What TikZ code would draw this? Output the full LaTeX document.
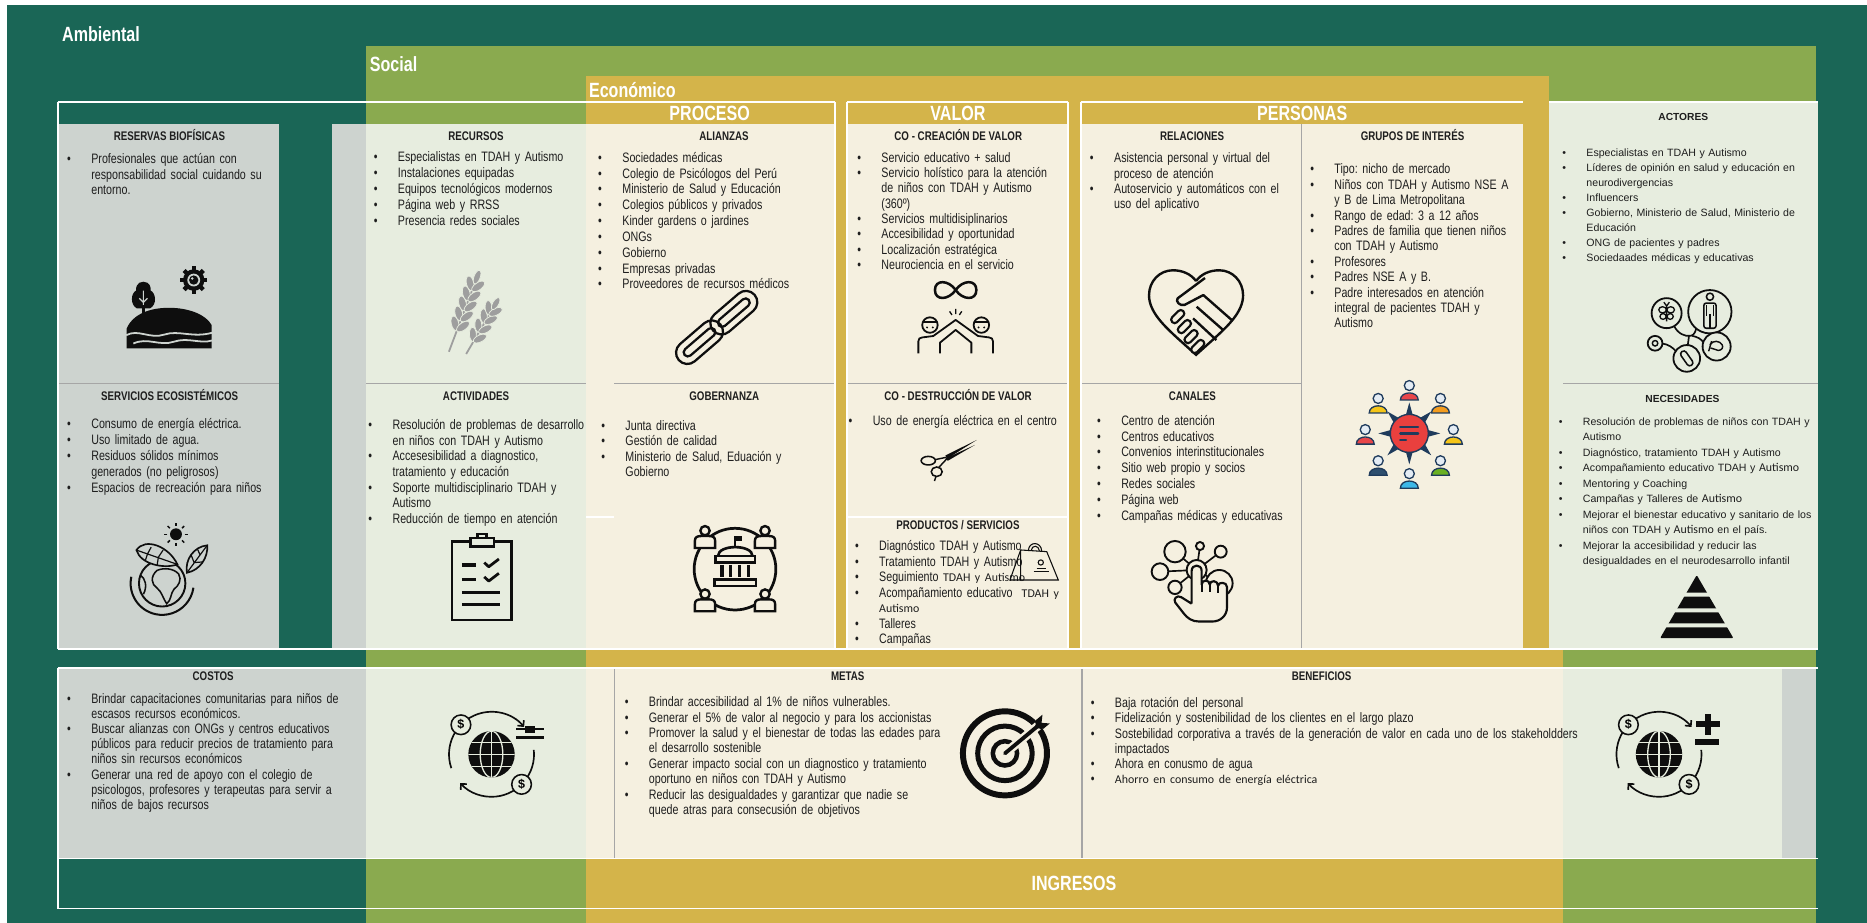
\documentclass[tikz,border=0pt]{standalone}
\usepackage{fontspec}
\setmainfont{Liberation Sans}[FakeStretch=0.78]
\newfontfamily\widefont{Liberation Sans}
\newfontfamily\calfont{Carlito}
\usetikzlibrary{arrows.meta}
\frenchspacing

\definecolor{ambc}{HTML}{1A6656}
\definecolor{socc}{HTML}{8AAA4F}
\definecolor{ecoc}{HTML}{D4B44A}
\definecolor{grayc}{HTML}{CDD3CF}
\definecolor{lgrc}{HTML}{E7EDDF}
\definecolor{begc}{HTML}{F5F0E0}
\definecolor{sepc}{HTML}{A6A6A6}
\definecolor{txtc}{HTML}{1E1E1E}
\definecolor{inkc}{HTML}{0E0E0E}
\definecolor{wheatc}{HTML}{9E9E9E}
\definecolor{navyc}{HTML}{1F3B5C}
\definecolor{gearc}{HTML}{E9403E}
\definecolor{headc}{HTML}{E4ECF4}
\definecolor{pred}{HTML}{E8464A}
\definecolor{porange}{HTML}{F39C1F}
\definecolor{pyellow}{HTML}{F5C518}
\definecolor{pgreen}{HTML}{6AB023}
\definecolor{pblue}{HTML}{3DB8E8}
\definecolor{pnavy}{HTML}{2E4F6E}

% bulleted paragraph with hanging indent
\newcommand\blt[1]{\hangindent=20.3pt\hangafter=1\makebox[20.3pt][l]{\textbullet}#1\par}
% line break inside a bulleted paragraph
\newcommand\nl{\hfil\break}
% words set in Carlito
\newcommand\calt[1]{{\calfont\fontsize{10}{10}\selectfont #1}}

% person of the governance icon
\newcommand\govp[2]{%
  \begin{scope}[shift={(#1,#2)}]
    \draw[inkc, line width=2, fill=begc] (-8.5,9.5) -- (-8.5,3.5) .. controls (-8.5,0.5) and (-6.5,-0.5) .. (-3.5,-0.5) -- (3.5,-0.5) .. controls (6.5,-0.5) and (8.5,0.5) .. (8.5,3.5) -- (8.5,9.5) -- cycle;
    \draw[inkc, line width=2, fill=begc] (0,-5) circle (3.9);
  \end{scope}}

% one chain link, centred and turned
\newcommand\chainlink[3]{%
  \begin{scope}[shift={(#1,#2)}, yscale=-1, rotate=#3]
    \draw[inkc, line width=1.9, rounded corners=9.5] (-23,-9.5) rectangle (23,9.5);
    \draw[inkc, line width=1.9, rounded corners=3.5] (-16.5,-3.5) rectangle (16.5,3.5);
  \end{scope}}

% globe with money arrows
\newcommand\moneyglobe[4]{%
  \begin{scope}[shift={(#1,#2)}, yscale=-1]
    \fill[inkc] (0,0) circle (19.5);
    \begin{scope}
      \clip (0,0) circle (19.5);
      \draw[#3, line width=1.1] (-21,0) -- (21,0) (-21,10) -- (21,10) (-21,-10) -- (21,-10) (0,-21) -- (0,21);
      \draw[#3, line width=1.1] (0,0) ellipse [x radius=9.5, y radius=19.5];
    \end{scope}
    \draw[inkc, line width=1.4, -{Straight Barb[length=3.5pt,width=7pt]}] (199:35.7) arc[start angle=199, end angle=40, radius=35.7];
    \draw[inkc, line width=1.4, -{Straight Barb[length=3.5pt,width=7pt]}] (6:35.7) arc[start angle=6, end angle=-137.5, radius=35.7];
    \node[dollar, fill=#3] (#4a) at (136:35.7) {\$};
    \node[dollar, fill=#3] (#4b) at (-45:35.7) {\$};
  \end{scope}}

\begin{document}
\begin{tikzpicture}[x=1pt, y=-1pt,
  lst/.style={anchor=base west, inner sep=0pt, outer sep=0pt, text width=430pt, align=left, text=txtc, font=\fontsize{11.5}{#1}\selectfont},
  lst/.default=13,
  lstw/.style={lst, font=\widefont\fontsize{8.9}{#1}\selectfont},
  lstw/.default=12.8,
  ttl/.style={anchor=base, inner sep=0pt, text=txtc, font=\fontsize{10.5}{12}\selectfont\bfseries},
  ttlw/.style={anchor=base, inner sep=0pt, text=txtc, font=\widefont\fontsize{8.6}{10}\selectfont\bfseries},
  hdr/.style={anchor=base, inner sep=0pt, text=white, font=\fontsize{17.3}{19}\selectfont\bfseries},
  bandlbl/.style={anchor=base west, inner sep=0pt, text=white, font=\fontsize{17.3}{19}\selectfont\bfseries},
  wline/.style={white, line width=1.6},
  sepline/.style={sepc, line width=1.4},
  icon/.style={inkc, line width=1.6},
  dollar/.style={circle, draw=inkc, line width=1.3, inner sep=0pt, minimum size=16.5pt, font=\widefont\fontsize{10.5}{10.5}\selectfont\bfseries}
]
\useasboundingbox (0,0) rectangle (1568,775);
\fill[white] (0,0) rectangle (1568,775);

% ---- the three nested bands ----
\fill[ambc] (6,4.2) rectangle (1568,775);
\fill[socc] (307.8,38.6) rectangle (1525.5,775);
\fill[ecoc] (492,64) rectangle (1301,775);
\fill[ecoc] (1301,545) rectangle (1313,775);

\node[bandlbl] (lamb) at (52,35) {Ambiental};
\node[bandlbl] (lsoc) at (310.5,60) {Social};
\node[bandlbl] (leco) at (494.5,81.7) {Económico};

% ---- upper cells ----
\fill[grayc] (49,104.5) rectangle (234.5,545);
\fill[grayc] (278.5,104.5) rectangle (307.8,545);
\fill[lgrc] (307.8,104.5) rectangle (492,545);
\fill[begc] (492,104.5) rectangle (701,545);
\fill[begc] (711.5,104.5) rectangle (897,545);
\fill[begc] (907.6,104.5) rectangle (1279,545);
\fill[lgrc] (1301,86) rectangle (1526.5,545);

% ---- lower cells ----
\fill[grayc] (49,561) rectangle (307.8,721);
\fill[lgrc] (307.8,561) rectangle (492,721);
\fill[begc] (492,561) rectangle (1313,721);
\fill[lgrc] (1313,561) rectangle (1497,721);
\fill[grayc] (1497,561) rectangle (1525.5,721);

% ---- separators ----
\draw[sepline] (49,322) -- (234.5,322);
\draw[sepline] (307.8,322) -- (492,322);
\draw[sepline] (516,322) -- (701,322);
\draw[sepline] (711.5,322) -- (897,322);
\draw[sepline] (907.6,322) -- (1093,322);
\draw[sepline] (1313,322) -- (1527,322);
\draw[sepline] (1093,104.5) -- (1093,545);
\draw[sepline] (516,561) -- (516,721);
\draw[sepline] (908.6,561) -- (908.6,721);

% ---- white frames ----
\draw[wline] (49,86) -- (701,86);
\draw[wline] (711.5,86) -- (897,86);
\draw[wline] (907.6,86) -- (1279,86);
\draw[wline] (1301,86) -- (1527,86);
\draw[wline] (49,86) -- (49,545);
\draw[wline] (701,86) -- (701,545);
\draw[wline] (711.5,86) -- (711.5,545);
\draw[wline] (897,86) -- (897,545);
\draw[wline] (907.6,86) -- (907.6,545);
\draw[wline] (49,545) -- (1527,545);
\draw[wline] (492,434) -- (516,434);
\draw[wline] (711.5,434) -- (897,434);
\draw[wline] (49,561) -- (1527,561);
\draw[wline] (49,721) -- (1527,721);
\draw[wline] (49,763) -- (1527,763);
\draw[wline] (49,561) -- (49,763);

% ---- headers ----
\node[hdr] (hProc) at (596,101.6) {PROCESO};
\node[hdr] (hVal) at (804.5,101.6) {VALOR};
\node[hdr] (hPer) at (1093.6,101.6) {PERSONAS};
\node[hdr] (ingresos) at (902,747.5) {INGRESOS};

% ---- block titles ----
\node[ttl] (hRes) at (142.3,117.6) {RESERVAS BIOFÍSICAS};
\node[ttl] (hRec) at (399.8,117.6) {RECURSOS};
\node[ttl] (hAli) at (608,117.6) {ALIANZAS};
\node[ttl] (hCre) at (804.8,117.6) {CO - CREACIÓN DE VALOR};
\node[ttl] (hRel) at (1001.2,117.6) {RELACIONES};
\node[ttl] (hGru) at (1186.3,117.6) {GRUPOS DE INTERÉS};
\node[ttlw] (hAct) at (1413.7,101.4) {ACTORES};
\node[ttl] (hSer) at (142.5,336) {SERVICIOS ECOSISTÉMICOS};
\node[ttl] (hActv) at (399.8,336) {ACTIVIDADES};
\node[ttl] (hGob) at (608.3,336) {GOBERNANZA};
\node[ttl] (hDes) at (804.6,336) {CO - DESTRUCCIÓN DE VALOR};
\node[ttl] (hPro) at (804.5,445) {PRODUCTOS / SERVICIOS};
\node[ttl] (hCan) at (1001.4,336) {CANALES};
\node[ttlw] (hNec) at (1413,338.2) {NECESIDADES};
\node[ttl] (hCos) at (179,571.1) {COSTOS};
\node[ttl] (hMet) at (712,571.1) {METAS};
\node[ttl] (hBen) at (1110,571.1) {BENEFICIOS};

% ---- block contents ----
\node[lst=12.9] (tRes) at (56.4,137.6) {\blt{Profesionales que actúan con\nl responsabilidad social cuidando su\nl entorno.}};
\node[lst=13.3] (tRec) at (313.9,135.9) {\blt{Especialistas en TDAH y Autismo}\blt{Instalaciones equipadas}\blt{Equipos tecnológicos modernos}\blt{Página web y RRSS}\blt{Presencia redes sociales}};
\node[lst=13.3] (tAli) at (502.4,136.2) {\blt{Sociedades médicas}\blt{Colegio de Psicólogos del Perú}\blt{Ministerio de Salud y Educación}\blt{Colegios públicos y privados}\blt{Kinder gardens o jardines}\blt{ONGs}\blt{Gobierno}\blt{Empresas privadas}\blt{Proveedores de recursos médicos}};
\node[lst=12.9] (tCre) at (720,136.2) {\blt{Servicio educativo + salud}\blt{Servicio holístico para la atención\nl de niños con TDAH y Autismo\nl (360º)}\blt{Servicios multidisiplinarios}\blt{Accesibilidad y oportunidad}\blt{Localización estratégica}\blt{Neurociencia en el servicio}};
\node[lst=12.9] (tRel) at (915.4,136.8) {\blt{Asistencia personal y virtual del\nl proceso de atención}\blt{Autoservicio y automáticos con el\nl uso del aplicativo}};
\node[lst=12.93] (tGru) at (1100.4,146) {\blt{Tipo: nicho de mercado}\blt{Niños con TDAH y Autismo NSE A\nl y B de Lima Metropolitana}\blt{Rango de edad: 3 a 12 años}\blt{Padres de familia que tienen niños\nl con TDAH y Autismo}\blt{Profesores}\blt{Padres NSE A y B.}\blt{Padre interesados en atención\nl integral de pacientes TDAH y\nl Autismo}};
\node[lstw=12.6] (tAct) at (1312.1,131.2) {\blt{Especialistas en TDAH y Autismo}\blt{Líderes de opinión en salud y educación en\nl neurodivergencias}\blt{Influencers}\blt{Gobierno, Ministerio de Salud, Ministerio de\nl Educación}\blt{ONG de pacientes y padres}\blt{Sociedaades médicas y educativas}};
\node[lst=13.3] (tSer) at (56.4,360.2) {\blt{Consumo de energía eléctrica.}\blt{Uso limitado de agua.}\blt{Residuos sólidos mínimos\nl generados (no peligrosos)}\blt{Espacios de recreación para niños}};
\node[lst=13.07] (tActv) at (309.4,361) {\blt{Resolución de problemas de desarrollo\nl en niños con TDAH y Autismo}\blt{Accesesibilidad a diagnostico,\nl tratamiento y educación}\blt{Soporte multidisciplinario  TDAH y\nl Autismo}\blt{Reducción de tiempo en atención}};
\node[lst=13.07] (tGob) at (505,361.3) {\blt{Junta directiva}\blt{Gestión de calidad}\blt{Ministerio de Salud, Eduación y\nl Gobierno}};
\node[lst] (tDes) at (712.7,357.1) {\blt{Uso de energía eléctrica en el centro}};
\node[lst=13.07] (tPro) at (718.1,462.4) {\blt{Diagnóstico TDAH y Autismo}\blt{Tratamiento TDAH y Autismo}\blt{Seguimiento \calt{TDAH y Autismo}}\blt{Acompañamiento educativo \ \calt{TDAH y\nl Autismo}}\blt{Talleres}\blt{Campañas}};
\node[lst=13.28] (tCan) at (921.4,357.1) {\blt{Centro de atención}\blt{Centros educativos}\blt{Convenios interinstitucionales}\blt{Sitio web propio y socios}\blt{Redes sociales}\blt{Página web}\blt{Campañas médicas y educativas}};
\node[lstw=12.97] (tNec) at (1309.1,357.4) {\blt{Resolución de problemas de niños con TDAH y\nl Autismo}\blt{Diagnóstico, tratamiento TDAH y Autismo}\blt{Acompañamiento educativo TDAH y \calt{Autismo}}\blt{Mentoring y Coaching}\blt{Campañas y Talleres de \calt{Autismo}}\blt{Mejorar el bienestar educativo y sanitario de los\nl niños con TDAH y \calt{Autismo} en el país.}\blt{Mejorar la accesibilidad y reducir las\nl desigualdades en el neurodesarrollo infantil}};
\node[lst=12.7] (tCos) at (56.4,590.8) {\blt{Brindar capacitaciones comunitarias para niños de\nl escasos recursos económicos.}\blt{Buscar alianzas con ONGs y centros educativos\nl públicos para reducir precios de tratamiento para\nl niños sin recursos económicos}\blt{Generar una red de apoyo con el colegio de\nl psicologos, profesores y terapeutas para servir a\nl niños de bajos recursos}};
\node[lst=12.93] (tMet) at (524.7,593.6) {\blt{Brindar accesibilidad al 1\% de niños vulnerables.}\blt{Generar el 5\% de valor al negocio y para los accionistas}\blt{Promover la salud y el bienestar de todas las edades para\nl el desarrollo sostenible}\blt{Generar impacto social con un diagnostico y tratamiento\nl oportuno en niños con TDAH y Autismo}\blt{Reducir las desigualdades y garantizar que nadie se\nl quede atras para consecusión de objetivos}};
\node[lst=12.7] (tBen) at (916.1,594.5) {\blt{Baja rotación del personal}\blt{Fidelización y sostenibilidad de los clientes en el largo plazo}\blt{Sostebilidad corporativa a través de la generación de valor en cada uno de los stakeholdders\nl impactados}\blt{Ahora en conusmo de agua}\blt{\calt{Ahorro en consumo de energía eléctrica}}};

% ================= icons =================
% hill, tree and sun
\fill[inkc] (106.3,292.5) -- (106.3,276) .. controls (112,263) and (127,258.5) .. (142,258.5) .. controls (158,258.5) and (173,264) .. (177.7,273) -- (177.7,292.5) -- cycle;
\draw[grayc, line width=1.5] (106,281.5) .. controls (116,276) and (126,285) .. (138,281) .. controls (150,277) and (162,284) .. (178,279.5);
\draw[grayc, line width=1.5] (112,288.5) .. controls (124,283) and (134,291) .. (146,287) .. controls (158,283) and (168,289) .. (178,286);
\fill[inkc] (119.3,257) rectangle (121.5,266);
\fill[inkc] (120.4,236.6) .. controls (126,236.6) and (127,242) .. (126.5,244) .. controls (131,246) and (132,256) .. (126,259) -- (115,259) .. controls (109,256) and (110,246) .. (114.3,244) .. controls (113.8,242) and (115,236.6) .. (120.4,236.6) -- cycle;
\draw[grayc, line width=1] (120.4,244) -- (120.4,256) (117,250.5) -- (120.4,254) -- (123.8,250.5);
\fill[inkc] (162.7,235.2) circle (9);
\foreach \a in {0,45,...,315}
  \fill[inkc, rotate around={\a:(162.7,235.2)}] (160.9,223.8) rectangle (164.5,235.2);
\fill[grayc] (162.7,235.2) circle (5.4);
\fill[inkc] (162.7,235.2) circle (3.9);
\fill[grayc] (161.4,233.9) circle (1.2);

% wheat
\begin{scope}[shift={(377,295.4)}, yscale=-1, rotate=20.7]
  \draw[wheatc, line width=1.5] (0,0) -- (0,64);
  \foreach \yy in {24,33,42,51,60} {
    \fill[wheatc, draw=lgrc, line width=0.6, rotate around={-34:(-3.6,\yy)}] (-3.6,\yy) ellipse [x radius=3.1, y radius=6.3];
    \fill[wheatc, draw=lgrc, line width=0.6, rotate around={34:(3.6,\yy)}] (3.6,\yy) ellipse [x radius=3.1, y radius=6.3];
  }
  \fill[wheatc, draw=lgrc, line width=0.6] (0,67) ellipse [x radius=2.6, y radius=6];
\end{scope}
\begin{scope}[shift={(391.5,297.3)}, yscale=-1, rotate=30.4]
  \draw[wheatc, line width=1.5] (0,0) -- (0,44);
  \foreach \yy in {17,26,35,43} {
    \fill[wheatc, draw=lgrc, line width=0.6, rotate around={-34:(-3.4,\yy)}] (-3.4,\yy) ellipse [x radius=2.9, y radius=6];
    \fill[wheatc, draw=lgrc, line width=0.6, rotate around={34:(3.4,\yy)}] (3.4,\yy) ellipse [x radius=2.9, y radius=6];
  }
  \fill[wheatc, draw=lgrc, line width=0.6] (0,49) ellipse [x radius=2.5, y radius=5.6];
\end{scope}

% chain
\chainlink{587.5}{287.4}{-40.7}
\chainlink{616.3}{262.6}{-40.7}

% infinity and high five
\draw[icon, line width=2.1] (802.6,243.6) .. controls (808.5,235) and (820,234.5) .. (820,243.6) .. controls (820,252.7) and (808.5,252.2) .. (802.6,243.6) .. controls (796.7,235) and (785.2,234.5) .. (785.2,243.6) .. controls (785.2,252.7) and (796.7,252.2) .. (802.6,243.6) -- cycle;
\draw[icon, line width=1.5] (781,273) circle (6.5);
\draw[icon, line width=1.5] (824.2,273) circle (6.5);
\draw[icon, line width=1.2] (774.8,270.5) -- (787.2,270.5) (818,270.5) -- (830.4,270.5);
\fill[inkc] (778.6,275) circle (0.9) (783.4,275) circle (0.9) (821.8,275) circle (0.9) (826.6,275) circle (0.9);
\draw[icon, line width=1.5, line join=round] (771.3,296.7) -- (771.3,286.5) .. controls (771.3,284.5) and (772.5,283.6) .. (774.5,283.4) -- (783.8,282.2) -- (802.6,268.7) -- (821.4,282.2) -- (830.7,283.4) .. controls (832.7,283.6) and (833.9,284.5) .. (833.9,286.5) -- (833.9,296.7);
\draw[icon, line width=1.5, line join=round] (789.4,296.7) -- (789.4,287.8) -- (802.6,277.1) -- (815.8,287.8) -- (815.8,296.7);
\draw[icon, line width=1.1] (797.5,261.5) -- (799.5,264.5) (802.6,259.5) -- (802.6,263.8) (807.7,261.5) -- (805.7,264.5);

% heart handshake
\draw[icon, line width=2] (1004.5,236) .. controls (1000,230) and (993,227) .. (985,227) .. controls (974,227) and (965,236) .. (965,248) .. controls (965,262) and (978,274) .. (990,285) -- (1004.5,298) -- (1019,285) .. controls (1031,274) and (1044,262) .. (1044,248) .. controls (1044,236) and (1035,227) .. (1024,227) .. controls (1016,227) and (1009,230) .. (1004.5,236);
\draw[icon, line width=2, line join=round, fill=begc] (1012,233.5) -- (989,250.6) .. controls (987,253) and (991,257.5) .. (995,256) -- (1010.6,247.8) -- (1034.5,268.8);
\draw[icon, line width=2] (1005,257.6) -- (1027.3,277.2);
\draw[icon, line width=2] (1002,267.4) -- (1021.6,285.6);
\foreach \cx/\cy in {989.1/265.9, 994.7/274.3, 1000.3/282.7, 1005.9/291}
  \draw[icon, line width=1.8, fill=begc, rotate around={45:(\cx,\cy)}, rounded corners=2.7] (\cx-6.5,\cy-2.9) rectangle (\cx+6.5,\cy+2.9);

% stakeholder network
\begin{scope}[shift={(1183.6,364)}, yscale=-1]
  \foreach \a in {0,45,...,315}
    \fill[navyc] (\a:26) -- (\a+14:14) -- (\a-14:14) -- cycle;
  \draw[navyc, line width=1.2, fill=gearc] (0,0) circle (16);
  \draw[navyc, line width=1.9, line cap=round] (-7.6,5.6) -- (7.4,5.6) (-7.6,0) -- (7.4,0) (-7.6,-5.6) -- (-2.8,-5.6);
  \foreach \a/\c in {90/pred, 45/porange, 0/pyellow, -45/pgreen, -90/pblue, -135/pnavy, 180/pred, 135/pyellow} {
    \begin{scope}[shift={(\a:37)}]
      \draw[navyc, line width=1.1, fill=\c] (-7.5,-9) .. controls (-7.5,-1) and (7.5,-1) .. (7.5,-9) -- cycle;
      \draw[navyc, line width=1.1, fill=headc] (0,3.2) circle (4.2);
    \end{scope}
  }
\end{scope}

% actors circles
\draw[icon, line width=1.4] (1396.2,288.6) .. controls (1401,289) and (1405,292) .. (1407.5,295);
\draw[icon, line width=1.4] (1406,273.8) .. controls (1409,280) and (1415,283) .. (1420,282) .. controls (1423,281.5) and (1424,278) .. (1424.5,276);
\draw[icon, line width=1.4] (1418.5,282) -- (1417.5,289.8);
\draw[icon, line width=1.4] (1421,282) .. controls (1426,283) and (1429,285) .. (1430.5,287.5);
\draw[icon, line width=1.5, fill=lgrc] (1436,261.8) circle (18.2);
\draw[icon, line width=1.3] (1436.1,249.2) circle (3);
\draw[icon, line width=1.3, rounded corners=2] (1431,254.5) rectangle (1441.2,275.7);
\draw[icon, line width=1.1] (1436.1,264) -- (1436.1,275.7) (1433.3,256) -- (1433.3,265) (1438.9,256) -- (1438.9,265);
\draw[icon, line width=1.5, fill=lgrc] (1399.7,263) circle (12.6);
\draw[icon, line width=1.1] (1399.7,256.5) -- (1399.7,270) (1399.7,257) -- (1397.4,253.8) (1399.7,257) -- (1402,253.8);
\draw[icon, line width=1.1] (1396.3,260.2) ellipse [x radius=3.2, y radius=2.6] (1403.1,260.2) ellipse [x radius=3.2, y radius=2.6] (1396.7,265.8) ellipse [x radius=2.6, y radius=2.4] (1402.7,265.8) ellipse [x radius=2.6, y radius=2.4];
\draw[icon, line width=1.5, fill=lgrc] (1416.6,301) circle (11.2);
\draw[icon, line width=1.3, rotate around={-55:(1416.6,301)}, rounded corners=2.5] (1409.6,298.4) rectangle (1423.6,303.6);
\draw[icon, line width=1.5, fill=lgrc] (1441.7,291) circle (11.8);
\draw[icon, line width=1.2] (1436,289.5) .. controls (1439,285.5) and (1444,286) .. (1446.3,289.5) .. controls (1447.6,291.8) and (1446,294.3) .. (1443,294.3) -- (1436.5,292.2);
\draw[icon, line width=1.2] (1437.5,286.5) -- (1435,295);
\draw[icon, line width=1.5, fill=lgrc] (1390,288.3) circle (6.2);
\draw[icon, line width=1.2] (1390,288.3) circle (2.3);

% globe, leaves and sun
\fill[inkc] (147.8,448.7) circle (5);
\foreach \a in {0,45,...,315}
  \draw[icon, line width=1.2] ([shift={(\a:7.2)}]147.8,448.7) -- ([shift={(\a:9.8)}]147.8,448.7);
\draw[icon, line width=1.6] (136.2,489.9) circle (19.5);
\begin{scope}[shift={(136.2,489.9)}, yscale=-1]
  \draw[icon, line width=1.7] (168:26.5) arc[start angle=168, end angle=352, radius=26.5];
\end{scope}
\draw[icon, line width=1.3] (132,479) .. controls (138,476.5) and (146,477.5) .. (150,482) .. controls (153,487) and (150,492) .. (146,495) .. controls (143,499) and (144,504) .. (140,507) .. controls (137,503) and (136,497) .. (132,494) .. controls (127,491) and (126,484) .. (132,479) -- cycle;
\draw[icon, line width=1.3] (118,483) .. controls (122,486) and (124,492) .. (120.5,499);
\draw[icon, line width=1.4, fill=grayc] (114.6,462) .. controls (122,451) and (142,459) .. (149,474) .. controls (138,478) and (118,474) .. (114.6,462) -- cycle;
\draw[icon, line width=1] (114.6,462) -- (149,474) (124,465) -- (127,459.5) (133,468) -- (137,462) (124,465) -- (122,471) (133,468) -- (132,474.5);
\draw[icon, line width=1.4, fill=grayc] (157,481) .. controls (155,470) and (163,459) .. (174,458) .. controls (175,468) and (168,479) .. (157,481) -- cycle;
\draw[icon, line width=1] (157,481) -- (174,458) (163,472.5) -- (160.5,466) (168,466) -- (166,461.5) (163,472.5) -- (169.5,472);

% clipboard
\draw[icon, line width=2.2] (379.6,455) rectangle (429.4,520.7);
\draw[icon, line width=2, fill=lgrc] (395,452) rectangle (415,459);
\draw[icon, line width=2] (401,452) -- (401,448.5) -- (408.5,448.5) -- (408.5,452);
\draw[icon, line width=2.6] (387.9,474.5) -- (400,474.5) (387.9,486.5) -- (400,486.5) (387.9,497.7) -- (420,497.7) (387.9,507.5) -- (420,507.5);
\draw[icon, line width=2.3, line join=round] (406.7,472.5) -- (410.5,476) -- (419,469.5) (406.7,484.5) -- (410.5,488) -- (419,481.5);

% governance
\draw[icon, line width=2.3] (617.3,478) circle (34.3);
\govp{592.1}{450.7}
\govp{642.5}{450.7}
\govp{592.1}{503.9}
\govp{642.5}{503.9}
\draw[icon, line width=2.2] (603,467) .. controls (603,457) and (632,457) .. (632,467);
\draw[icon, line width=1.6] (617.5,459.5) -- (617.5,450.5);
\fill[inkc] (617.5,450.5) rectangle (623.5,454.5);
\draw[icon, line width=2.2] (601,467) rectangle (634,472.5);
\foreach \x in {606.5,613.5,621,628.5}
  \draw[icon, line width=2.8] (\x,474.5) -- (\x,484.5);
\draw[icon, line width=2.2] (600,486.5) rectangle (635,492);

% scissors
\fill[inkc] (794,382.5) -- (820.3,369.5) -- (795.5,385.2) -- cycle;
\fill[inkc] (794,385) -- (818.8,373.7) -- (796,387) -- cycle;
\draw[icon, line width=1.2] (785.5,386) -- (795,384);
\draw[icon, line width=1.2] (788.5,392.5) -- (795,385.5);
\draw[icon, line width=1.3] (779.6,386.9) ellipse [x radius=6, y radius=3.6];
\draw[icon, line width=1.3] (786.7,396.2) ellipse [x radius=4.6, y radius=4];
\draw[icon, line width=1.2] (786,400.2) -- (784.8,404);

% shopping bag
\draw[icon, line width=0.9] (857.2,461.9) -- (879.1,463.3) -- (888.8,487.1) -- (857.2,487.1) -- cycle;
\draw[icon, line width=0.9] (857.2,461.9) -- (848.2,487.1) -- (857.2,487.1);
\draw[icon, line width=0.9] (863.7,462.3) .. controls (864,454.5) and (874.5,454.5) .. (874.9,462.9);
\draw[icon, line width=0.9] (866,462.4) .. controls (866.5,457.5) and (872.5,457.5) .. (873,462.8);
\draw[icon, line width=0.9] (874.1,472.4) circle (2.2);
\draw[icon, line width=0.9] (868,479.8) -- (881,479.8) (870.5,477.2) -- (878.5,477.2);

% hand on a network
\draw[icon, line width=1.4] (1005,478.7) -- (986.8,463.3) (1005,478.7) -- (974.2,480.1) (1005,478.7) -- (1007.8,458.6) (1005,478.7) -- (1025.2,463.3) (1005,478.7) -- (986.8,493.3) (1005,478.7) -- (1024,489.9);
\draw[icon, line width=1.6, fill=begc] (986.8,463.3) circle (9);
\draw[icon, line width=1.6, fill=begc] (974.2,480.1) circle (7);
\draw[icon, line width=1.6, fill=begc] (1007.8,458.6) circle (3.4);
\draw[icon, line width=1.6, fill=begc] (1025.2,463.3) circle (5);
\draw[icon, line width=1.6, fill=begc] (986.8,493.3) circle (5.6);
\draw[icon, line width=1.6, fill=begc] (1024,489.9) circle (11.2);
\draw[icon, line width=1.6, fill=begc] (1005,478.7) circle (8.4);
\draw[icon, line width=1.8, fill=begc, line join=round] (1000.8,507) -- (1000.8,479.5) .. controls (1000.8,473.5) and (1009.2,473.5) .. (1009.2,479.5) -- (1009.2,491) .. controls (1009.2,486.5) and (1016,486.5) .. (1016,491) .. controls (1016,487) and (1023,487) .. (1023,492) .. controls (1023,488.5) and (1030.5,488.5) .. (1030.5,493) -- (1030.5,510) .. controls (1030.5,517) and (1025,522) .. (1018,522) -- (1007,522) .. controls (1001,522) and (997,519) .. (994,515) -- (987,506) .. controls (985,503) and (988.5,499.5) .. (992,501.5) -- (1000.8,507);
\draw[icon, line width=1.6] (1009.2,490) -- (1009.2,497) (1016,491) -- (1016,497.5) (1023,492) -- (1023,498);

% pyramid
\fill[inkc, rounded corners=1] (1425,483) -- (1455.8,536) -- (1394.2,536) -- cycle;
\fill[lgrc] (1380,497.8) rectangle (1470,501) (1380,511) rectangle (1470,514.3) (1380,523.5) rectangle (1470,526.9);

% money globes
\moneyglobe{412.8}{633.5}{lgrc}{mgl}
\draw[icon, line width=2] (433.4,612.5) -- (456.6,612.5) (433.4,619.5) -- (456.6,619.5);
\fill[inkc] (441,609.4) rectangle (449,615.6);
\moneyglobe{1393.3}{633.5}{lgrc}{mgr}
\fill[inkc] (1424.5,605.8) rectangle (1444.5,610.8);
\fill[inkc] (1432,599.5) rectangle (1437,617.1);
\fill[inkc] (1423.6,620.8) rectangle (1443.6,625.6);

% target
\draw[icon, line width=5] (844,632.7) circle (35.3);
\draw[icon, line width=4.2] (844,632.7) circle (22.9);
\draw[icon, line width=3.8] (844,632.7) circle (10.2);
\begin{scope}[shift={(844,632.7)}, yscale=-1, rotate=-39.8]
  \draw[begc, line width=7.5] (2,0) -- (36,0);
  \draw[icon, line width=3.2, line cap=round] (0,0) -- (38,0);
  \fill[inkc] (33,0) -- (38,4.8) -- (45,4.8) -- (40,0) -- (45,-4.8) -- (38,-4.8) -- cycle;
\end{scope}
\end{tikzpicture}
\end{document}
